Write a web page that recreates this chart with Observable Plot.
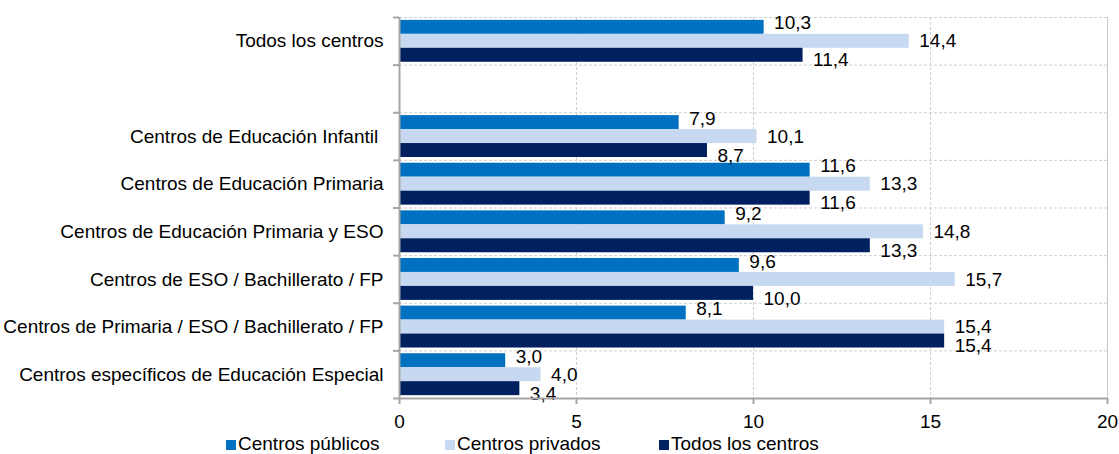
<!DOCTYPE html>
<html><head><meta charset="utf-8">
<script src="https://cdn.jsdelivr.net/npm/d3@7"></script>
<script src="https://cdn.jsdelivr.net/npm/@observablehq/plot@0.6"></script>
<style>
body{margin:0;background:#fff;font-family:"Liberation Sans",Arial,sans-serif;}
#chart{position:relative;width:1119px;height:454px;overflow:hidden;}
.legend{position:absolute;top:433px;left:0;width:1119px;height:21px;font-size:19px;line-height:22px;color:#000;}
.item{position:absolute;top:0;white-space:nowrap;}
.sw{display:inline-block;width:10px;height:10px;margin-right:2px;vertical-align:baseline;}
</style></head><body><div id="chart"></div>
<script>
const categories = [
  "Todos los centros",
  "",
  "Centros de Educación Infantil\u00a0",
  "Centros de Educación Primaria",
  "Centros de Educación Primaria y ESO",
  "Centros de ESO / Bachillerato / FP",
  "Centros de Primaria / ESO / Bachillerato / FP",
  "Centros específicos de Educación Especial"
];
const seriesNames = ["Centros públicos", "Centros privados", "Todos los centros"];
const seriesColors = ["#0070c0", "#c6d9f1", "#002060"];
const publicos = [10.3, null, 7.9, 11.6, 9.2, 9.6, 8.1, 3.0];
const privados = [14.4, null, 10.1, 13.3, 14.8, 15.7, 15.4, 4.0];
const todos    = [11.4, null, 8.7, 11.6, 13.3, 10.0, 15.4, 3.4];
const xTicks = [0, 5, 10, 15, 20];

const n = categories.length;
const seriesValues = [publicos, privados, todos];
const groupHalf = 0.44;               // half of the group's share of a category band
const barH = (2 * groupHalf) / 3;
const rows = [];
categories.forEach((c, i) => {
  seriesValues.forEach((vals, s) => {
    const y1 = i - groupHalf + s * barH;
    rows.push({cat: c, idx: i, series: seriesNames[s], s, value: vals[i], y1, y2: y1 + barH, ym: y1 + barH / 2});
  });
});
const boundaries = d3.range(n + 1).map(i => i - 0.5);
const fmt = v => v.toFixed(1).replace(".", ",");
const labelDy = [-4, 0, 5];
const axisGray = "#a6a6a6";

const plot = Plot.plot({
  width: 1119,
  height: 432,
  marginTop: 17,
  marginBottom: 34,
  marginLeft: 399,
  marginRight: 12,
  style: {fontFamily: "'Liberation Sans', Arial, sans-serif", fontSize: "19px", color: "#000", background: "#fff", overflow: "visible"},
  x: {domain: [0, 20], axis: null, label: null},
  y: {domain: [n - 0.5, -0.5], axis: null, label: null},
  color: {domain: seriesNames, range: seriesColors},
  marks: [
    Plot.gridX([5, 10, 15], {stroke: "#cfcfcf", strokeOpacity: 1, strokeDasharray: "3,2"}),
    Plot.gridY(boundaries.slice(0, -1), {stroke: "#cfcfcf", strokeOpacity: 1, strokeDasharray: "3,2"}),
    Plot.ruleX([20], {stroke: "#c8c8c8"}),
    Plot.rectX(rows.filter(d => d.value != null), {x1: 0, x2: "value", y1: "y1", y2: "y2", fill: "series"}),
    ...[0, 1, 2].map(s => Plot.text(rows.filter(d => d.value != null && d.s === s), {
      x: "value", y: "ym", text: d => fmt(d.value), textAnchor: "start", dx: 10, dy: labelDy[s], fill: "#000"
    })),
    Plot.ruleX([0], {stroke: axisGray, strokeWidth: 2}),
    Plot.ruleY([boundaries[n]], {stroke: axisGray, strokeWidth: 2}),
    Plot.axisY({ticks: boundaries, tickSize: 6, tickFormat: () => "", stroke: axisGray, strokeWidth: 2, label: null}),
    Plot.axisY({ticks: d3.range(n), tickSize: 0, tickPadding: 16, tickFormat: i => categories[i], fill: "#000", label: null}),
    Plot.axisX({ticks: xTicks, tickSize: 6, tickFormat: () => "", stroke: axisGray, strokeWidth: 2, label: null}),
    Plot.axisX({ticks: xTicks, tickSize: 0, tickPadding: 16, tickFormat: d => String(d), fill: "#000", label: null})
  ]
});
const root = document.getElementById("chart");
root.appendChild(plot);

const legend = document.createElement("div");
legend.className = "legend";
const lefts = [226, 445, 659];
seriesNames.forEach((name, i) => {
  const item = document.createElement("span");
  item.className = "item";
  item.style.left = lefts[i] + "px";
  const sw = document.createElement("span");
  sw.className = "sw";
  sw.style.background = seriesColors[i];
  item.appendChild(sw);
  item.appendChild(document.createTextNode(name));
  legend.appendChild(item);
});
root.appendChild(legend);
</script>
</body></html>
